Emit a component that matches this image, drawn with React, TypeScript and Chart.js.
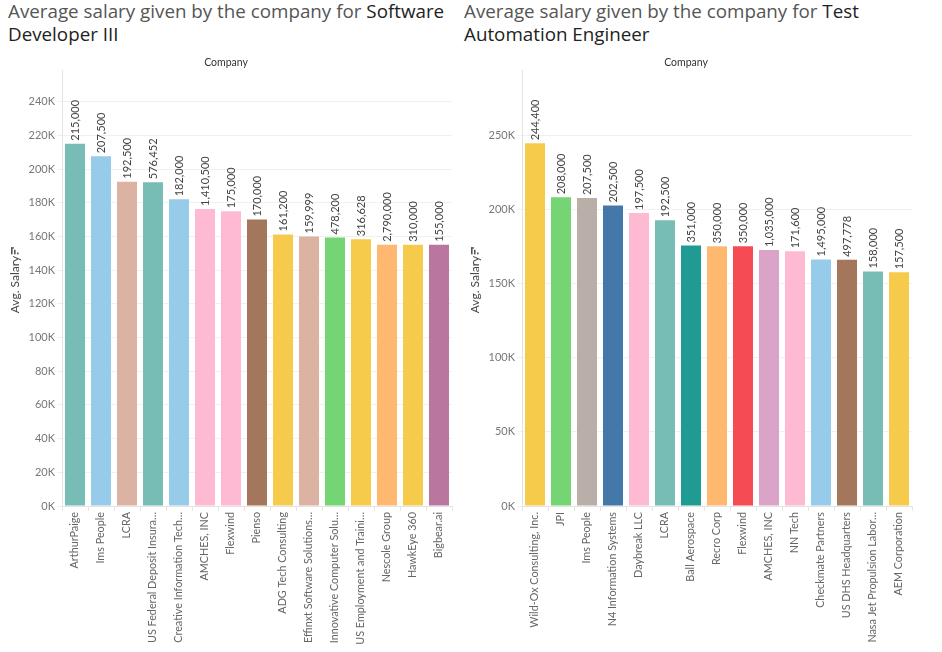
import React, { useEffect, useRef } from "react";
import { Chart, registerables } from "chart.js";

Chart.register(...registerables);

// ---------- Data: Software Developer III ----------
const sdCompanies = [
  "ArthurPaige",
  "Ims People",
  "LCRA",
  "US Federal Deposit Insura…",
  "Creative Information Tech…",
  "AMCHES, INC",
  "Flexwind",
  "Pienso",
  "ADG Tech Consulting",
  "Effinxt Software Solutions…",
  "Innovative Computer Solu…",
  "US Employment and Traini…",
  "Nescole Group",
  "HawkEye 360",
  "Bigbear.ai",
];
const sdAvgSalary = [
  215000, 207500, 192500, 192150, 182000, 176312, 175000, 170000, 161200, 159999,
  159400, 158314, 155000, 155000, 155000,
];
const sdValueLabels = [
  "215,000", "207,500", "192,500", "576,452", "182,000", "1,410,500", "175,000",
  "170,000", "161,200", "159,999", "478,200", "316,628", "2,790,000", "310,000",
  "155,000",
];
const sdColors = [
  "#78bdb5", "#97cbea", "#dcb3a3", "#78bdb5", "#97cbea", "#ffbad3", "#ffbad3",
  "#a4765c", "#f6cb4c", "#dcb3a3", "#75d473", "#f6cb4c", "#ffb86f", "#f6cb4c",
  "#b9769f",
];
const sdTickValues = [0, 20000, 40000, 60000, 80000, 100000, 120000, 140000, 160000, 180000, 200000, 220000, 240000];
const sdAxisMax = 258400;

// ---------- Data: Test Automation Engineer ----------
const taCompanies = [
  "Wild-Ox Consulting, Inc.",
  "JPI",
  "Ims People",
  "N4 Information Systems",
  "Daybreak LLC",
  "LCRA",
  "Ball Aerospace",
  "Recro Corp",
  "Flexwind",
  "AMCHES, INC",
  "NN Tech",
  "Checkmate Partners",
  "US DHS Headquarters",
  "Nasa Jet Propulsion Labor…",
  "AEM Corporation",
];
const taAvgSalary = [
  244400, 208000, 207500, 202500, 197500, 192500, 175500, 175000, 175000, 172500,
  171600, 166111, 165926, 158000, 157500,
];
const taValueLabels = [
  "244,400", "208,000", "207,500", "202,500", "197,500", "192,500", "351,000",
  "350,000", "350,000", "1,035,000", "171,600", "1,495,000", "497,778", "158,000",
  "157,500",
];
const taColors = [
  "#f6cb4c", "#75d473", "#b9aea8", "#4378a9", "#ffbad3", "#78bdb5", "#1f9b94",
  "#ffb86f", "#f44b55", "#dba3c8", "#ffbad3", "#97cbea", "#a4765c", "#78bdb5",
  "#f6cb4c",
];
const taTickValues = [0, 50000, 100000, 150000, 200000, 250000];
const taAxisMax = 293400;

const yAxisTitle = "Avg. Salary";
const FONT = "Lato";

type Props = {
  companies: string[];
  values: number[];
  valueLabels: string[];
  colors: string[];
  tickValues: number[];
  yMax: number;
  padRight: number;
};

function SalaryChart({ companies, values, valueLabels, colors, tickValues, yMax, padRight }: Props) {
  const ref = useRef<HTMLCanvasElement | null>(null);

  useEffect(() => {
    if (!ref.current) return;

    const labelPlugin = {
      id: "valueLabelsInline",
      afterDatasetsDraw(chart: any) {
        const ctx = chart.ctx;
        const meta = chart.getDatasetMeta(0);
        ctx.save();
        ctx.font = `11px ${FONT}`;
        ctx.fillStyle = "#444";
        ctx.textAlign = "left";
        ctx.textBaseline = "middle";
        meta.data.forEach((bar: any, i: number) => {
          ctx.save();
          ctx.translate(bar.x, bar.y - 3);
          ctx.rotate(-Math.PI / 2);
          ctx.fillText(valueLabels[i], 0, 0);
          ctx.restore();
        });
        ctx.restore();
      },
    };

    // y-axis title with a small sort indicator, positioned like the reference
    const yTitlePlugin = {
      id: "yTitleInline",
      afterDraw(chart: any) {
        const ctx = chart.ctx;
        const area = chart.chartArea;
        const mid = (area.top + area.bottom) / 2;
        const textStart = mid + 25; // bottom end of rotated text
        ctx.save();
        ctx.font = `12px ${FONT}`;
        ctx.fillStyle = "#444";
        ctx.textAlign = "left";
        ctx.textBaseline = "middle";
        ctx.translate(15.5, textStart);
        ctx.rotate(-Math.PI / 2);
        ctx.fillText(yAxisTitle, 0, 0);
        ctx.restore();

        const iconBottom = mid - 34;
        ctx.save();
        ctx.fillStyle = "#555";
        ctx.fillRect(11, iconBottom - 7, 1.6, 7);
        ctx.fillRect(11, iconBottom - 7, 3, 1.3);
        ctx.fillRect(14, iconBottom - 4.5, 1.6, 4.5);
        ctx.fillRect(17, iconBottom - 1.8, 1.6, 1.8);
        ctx.restore();
      },
    };

    const chart = new Chart(ref.current, {
      type: "bar",
      data: {
        labels: companies,
        datasets: [
          {
            data: values,
            backgroundColor: colors,
            borderWidth: 0,
            barPercentage: 0.77,
            categoryPercentage: 1,
          },
        ],
      },
      plugins: [labelPlugin, yTitlePlugin],
      options: {
        animation: false,
        responsive: false,
        maintainAspectRatio: false,
        layout: { padding: { left: 0, right: padRight, top: 0, bottom: 0 } },
        plugins: {
          legend: { display: false },
          tooltip: { enabled: false },
          title: {
            display: true,
            text: "Company",
            color: "#333",
            font: { family: FONT, size: 10.5, weight: "normal" },
            padding: { top: 8, bottom: 2 },
          },
        },
        scales: {
          x: {
            grid: {
              display: true,
              drawOnChartArea: false,
              drawTicks: true,
              tickLength: 5,
              color: "#e6e6e6",
            },
            border: { display: true, color: "#e3e3e3" },
            ticks: {
              autoSkip: false,
              maxRotation: 90,
              minRotation: 90,
              padding: 1,
              color: "#666",
              font: { family: FONT, size: 10.8 },
            },
            afterFit: (axis: any) => {
              axis.height = 146;
            },
          },
          y: {
            min: 0,
            max: yMax,
            grid: {
              color: "#f0f0f0",
              drawTicks: true,
              tickLength: 5,
            },
            border: { display: true, color: "#e3e3e3" },
            ticks: {
              padding: 2,
              color: "#777",
              font: { family: FONT, size: 11 },
              callback: (v: any) => `${Math.round(Number(v) / 1000)}K`,
            },
            afterBuildTicks: (axis: any) => {
              axis.ticks = tickValues.map((v) => ({ value: v }));
            },
            afterFit: (axis: any) => {
              axis.width = 62;
            },
          },
        },
      },
    } as any);

    return () => chart.destroy();
  }, [companies, values, valueLabels, colors, tickValues, yMax, padRight]);

  return <canvas ref={ref} width={460 + padRight - 8} height={604} style={{ display: "block" }} />;
}

const titleStyle: React.CSSProperties = {
  position: "absolute",
  top: 0,
  fontFamily: "'Open Sans', sans-serif",
  fontSize: 18.8,
  lineHeight: "23px",
  color: "#555",
  whiteSpace: "normal",
};
const jobStyle: React.CSSProperties = { color: "#222" };

export default function App() {
  return (
    <div
      style={{
        position: "fixed",
        left: 0,
        top: 0,
        width: 942,
        height: 652,
        background: "#fff",
        overflow: "hidden",
      }}
    >
      <div style={{ ...titleStyle, left: 8, width: 450 }}>
        Average salary given by the company for <span style={jobStyle}>Software Developer III</span>
      </div>
      <div style={{ ...titleStyle, left: 464, width: 470 }}>
        Average salary given by the company for <span style={jobStyle}>Test Automation Engineer</span>
      </div>
      <div style={{ position: "absolute", left: 0, top: 48 }}>
        <SalaryChart
          companies={sdCompanies}
          values={sdAvgSalary}
          valueLabels={sdValueLabels}
          colors={sdColors}
          tickValues={sdTickValues}
          yMax={sdAxisMax}
          padRight={8}
        />
      </div>
      <div style={{ position: "absolute", left: 460, top: 48 }}>
        <SalaryChart
          companies={taCompanies}
          values={taAvgSalary}
          valueLabels={taValueLabels}
          colors={taColors}
          tickValues={taTickValues}
          yMax={taAxisMax}
          padRight={30}
        />
      </div>
    </div>
  );
}
